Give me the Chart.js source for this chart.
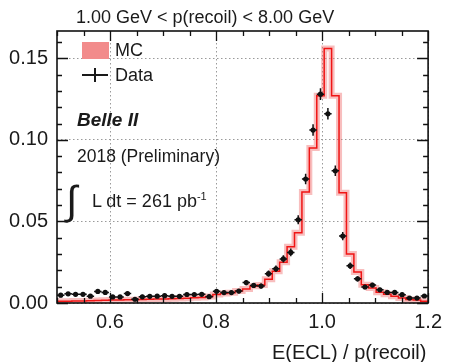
<!DOCTYPE html>
<html lang="en">
<head>
<meta charset="UTF-8">
<title>E(ECL) / p(recoil)</title>
<script src="https://cdn.jsdelivr.net/npm/chart.js"></script>
<style>
    body { margin: 0; background: #fff; }
    #wrap { position: relative; width: 449px; height: 362px; font-family: "Liberation Sans", Arial, sans-serif; color: #1a1a1a; }
    .lbl { position: absolute; white-space: nowrap; line-height: 1; }
    .bar { position: absolute; background: #1a1a1a; }
</style>
</head>
<body>
<div id="wrap">
    <canvas id="chart" width="449" height="362"></canvas>
    <div class="lbl" style="left:76px;top:8px;font-size:18px">1.00 GeV &lt; p(recoil) &lt; 8.00 GeV</div>
    <div style="position:absolute;left:82px;top:42px;width:27px;height:17px;background:#f28b8b"></div>
    <div class="lbl" style="left:115px;top:41px;font-size:18px">MC</div>
    <div class="bar" style="left:82px;top:74px;width:26px;height:1.5px"></div>
    <div class="bar" style="left:94px;top:68px;width:1.5px;height:14px"></div>
    <div class="lbl" style="left:115px;top:66px;font-size:18px">Data</div>
    <div class="lbl" style="left:77px;top:110px;font-size:19px;font-weight:bold;font-style:italic">Belle II</div>
    <div class="lbl" style="left:77px;top:148px;font-size:17.5px">2018 (Preliminary)</div>
    <div class="lbl" style="left:66px;top:180px;font-size:40px">&int;</div>
    <div class="lbl" style="left:92px;top:191px;font-size:18px">L dt = 261 pb<sup style="font-size:11px">-1</sup></div>
    <div class="lbl" style="left:272px;top:342px;font-size:20px">E(ECL) / p(recoil)</div>
</div>

<script>
    // histogram binning: 50 bins of 0.014 between 0.5 and 1.2
    const binCenters = [0.507, 0.521, 0.535, 0.549, 0.563, 0.577, 0.591, 0.605, 0.619, 0.633,
        0.647, 0.661, 0.675, 0.689, 0.703, 0.717, 0.731, 0.745, 0.759, 0.773,
        0.787, 0.801, 0.815, 0.829, 0.843, 0.857, 0.871, 0.885, 0.899, 0.913,
        0.927, 0.941, 0.955, 0.969, 0.983, 0.997, 1.011, 1.025, 1.039, 1.053,
        1.067, 1.081, 1.095, 1.109, 1.123, 1.137, 1.151, 1.165, 1.179, 1.193];
    const binHalfWidth = 0.007;

    const dataValues = [0.0048, 0.0056, 0.0053, 0.0053, 0.0042, 0.0071, 0.0065, 0.0037, 0.0037, 0.0058,
        0.0023, 0.0038, 0.0041, 0.0042, 0.0045, 0.0041, 0.0041, 0.0052, 0.0052, 0.0053,
        0.0039, 0.0072, 0.0064, 0.0064, 0.0073, 0.0125, 0.0108, 0.0104, 0.0180, 0.0210,
        0.0270, 0.0310, 0.0510, 0.0760, 0.1060, 0.1280, 0.1160, 0.0810, 0.0410, 0.0228,
        0.0148, 0.0098, 0.0110, 0.0081, 0.0065, 0.0065, 0.0051, 0.0030, 0.0030, 0.0043];
    const dataErrors = [0.0012, 0.0012, 0.0012, 0.0012, 0.0012, 0.0012, 0.0012, 0.0012, 0.0012, 0.0012,
        0.0012, 0.0012, 0.0012, 0.0012, 0.0012, 0.0012, 0.0012, 0.0012, 0.0012, 0.0012,
        0.0012, 0.0013, 0.0013, 0.0013, 0.0013, 0.0016, 0.0015, 0.0015, 0.0019, 0.0020,
        0.0022, 0.0024, 0.0028, 0.0032, 0.0035, 0.0036, 0.0035, 0.0032, 0.0025, 0.0020,
        0.0016, 0.0014, 0.0014, 0.0013, 0.0012, 0.0012, 0.0012, 0.0012, 0.0012, 0.0012];
    const mcValues = [0.0010, 0.0011, 0.0012, 0.0013, 0.0014, 0.0015, 0.0017, 0.0018, 0.0019, 0.0020,
        0.0020, 0.0021, 0.0023, 0.0024, 0.0025, 0.0026, 0.0027, 0.0029, 0.0032, 0.0034,
        0.0040, 0.0052, 0.0058, 0.0063, 0.0074, 0.0086, 0.0102, 0.0110, 0.0145, 0.0195,
        0.0250, 0.0345, 0.0430, 0.0680, 0.0950, 0.1270, 0.1560, 0.1270, 0.0675, 0.0300,
        0.0190, 0.0112, 0.0092, 0.0066, 0.0054, 0.0042, 0.0030, 0.0022, 0.0018, 0.0010];

    const xTickValues = [0.6, 0.8, 1.0, 1.2];
    const yTickValues = [0.00, 0.05, 0.10, 0.15];

    // MC as step line: one point on the low edge of each bin plus the last high edge
    const mcSteps = binCenters.map((c, i) => ({ x: c - binHalfWidth, y: mcValues[i] }));
    mcSteps.push({ x: binCenters[binCenters.length - 1] + binHalfWidth, y: mcValues[mcValues.length - 1] });
    const dataPoints = binCenters.map((c, i) => ({ x: c, y: dataValues[i] }));

    const errorBars = {
        id: "errorBars",
        afterDatasetsDraw(chart) {
            const { ctx, scales: { x, y } } = chart;
            ctx.save();
            ctx.strokeStyle = "#111";
            ctx.lineWidth = 1.5;
            ctx.beginPath();
            binCenters.forEach((c, i) => {
                const px = x.getPixelForValue(c);
                const py = y.getPixelForValue(dataValues[i]);
                ctx.moveTo(px, y.getPixelForValue(dataValues[i] - dataErrors[i]));
                ctx.lineTo(px, y.getPixelForValue(dataValues[i] + dataErrors[i]));
                ctx.moveTo(x.getPixelForValue(c - binHalfWidth), py);
                ctx.lineTo(x.getPixelForValue(c + binHalfWidth), py);
            });
            ctx.stroke();
            ctx.restore();
        }
    };

    const frameTicks = {
        id: "frameTicks",
        afterDraw(chart) {
            const { ctx, chartArea: a, scales: { x, y } } = chart;
            ctx.save();
            ctx.strokeStyle = "#111";
            ctx.lineWidth = 1.3;
            ctx.beginPath();
            for (let v = 50; v <= 120; v += 5) {
                const px = Math.round(x.getPixelForValue(v / 100)) + 0.5;
                const len = v % 20 === 0 ? 10 : 5;
                ctx.moveTo(px, a.bottom); ctx.lineTo(px, a.bottom - len);
                ctx.moveTo(px, a.top); ctx.lineTo(px, a.top + len);
            }
            for (let v = 0; v <= 16; v++) {
                const py = Math.round(y.getPixelForValue(v / 100)) + 0.5;
                const len = v % 5 === 0 ? 11 : 5;
                ctx.moveTo(a.left, py); ctx.lineTo(a.left + len, py);
                ctx.moveTo(a.right, py); ctx.lineTo(a.right - len, py);
            }
            ctx.stroke();
            ctx.lineWidth = 1.6;
            ctx.strokeRect(a.left, a.top, a.width, a.height);
            ctx.restore();
        }
    };

    new Chart(document.getElementById("chart"), {
        type: "line",
        data: {
            datasets: [
                {
                    label: "Data",
                    data: dataPoints,
                    showLine: false,
                    pointRadius: 2.6,
                    pointBackgroundColor: "#111",
                    pointBorderColor: "#111",
                    pointBorderWidth: 0
                },
                {
                    label: "MC",
                    data: mcSteps,
                    stepped: "before",
                    borderColor: "#f01515",
                    borderWidth: 1.5,
                    pointRadius: 0,
                    fill: false
                },
                {
                    label: "MC band",
                    data: mcSteps,
                    stepped: "before",
                    borderColor: "rgba(240, 110, 110, 0.45)",
                    borderWidth: 6,
                    pointRadius: 0,
                    fill: false
                }
            ]
        },
        options: {
            responsive: false,
            animation: false,
            layout: { padding: { top: 31, right: 16, bottom: 0, left: 0 } },
            plugins: { legend: { display: false }, tooltip: { enabled: false } },
            scales: {
                x: {
                    type: "linear",
                    min: 0.5,
                    max: 1.2,
                    afterBuildTicks: s => { s.ticks = xTickValues.map(v => ({ value: v })); },
                    afterFit: s => { s.height = 59; },
                    ticks: {
                        callback: v => v.toFixed(1),
                        color: "#1a1a1a",
                        font: { family: "Liberation Sans", size: 20 },
                        padding: 7,
                        maxRotation: 0,
                        autoSkip: false
                    },
                    grid: { color: "#9a9a9a", lineWidth: 1, drawTicks: false },
                    border: { display: false, dash: [1.5, 2.5] }
                },
                y: {
                    min: 0,
                    max: 0.1667,
                    afterBuildTicks: s => { s.ticks = yTickValues.map(v => ({ value: v })); },
                    afterFit: s => { s.width = 57; },
                    ticks: {
                        callback: v => v.toFixed(2),
                        color: "#1a1a1a",
                        font: { family: "Liberation Sans", size: 20 },
                        padding: 9
                    },
                    grid: { color: "#9a9a9a", lineWidth: 1, drawTicks: false },
                    border: { display: false, dash: [1.5, 2.5] }
                }
            }
        },
        plugins: [errorBars, frameTicks]
    });
</script>
</body>
</html>
